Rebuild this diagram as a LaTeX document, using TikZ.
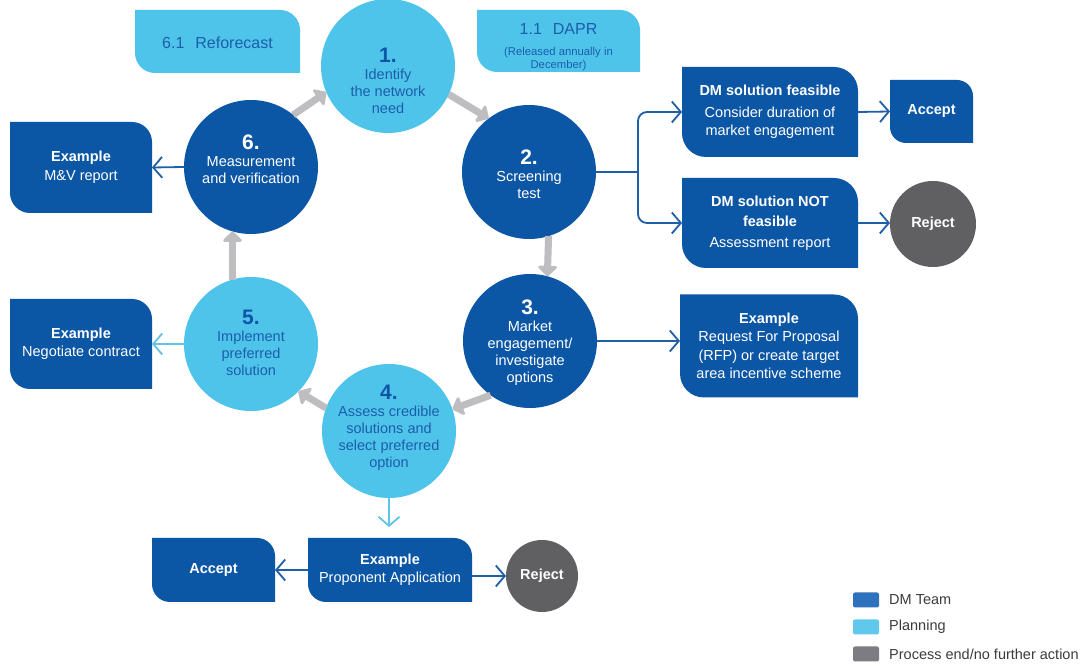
\documentclass[tikz,border=0pt]{standalone}
\usepackage{fontspec}
\setmainfont{Liberation Sans}
\usetikzlibrary{arrows.meta}
\definecolor{dmblue}{RGB}{12,86,166}
\definecolor{plan}{RGB}{78,196,234}
\definecolor{endgray}{RGB}{96,96,98}
\definecolor{arrgray}{RGB}{190,190,192}
\definecolor{lineblue}{RGB}{30,95,168}
\definecolor{linelight}{RGB}{95,196,230}
\definecolor{numblue}{RGB}{16,84,168}
\definecolor{plantext}{RGB}{28,94,172}
\definecolor{legdark}{RGB}{46,114,190}
\definecolor{leglight}{RGB}{95,200,236}
\definecolor{leggray}{RGB}{124,124,130}
\definecolor{legtext}{RGB}{60,60,60}
\tikzset{
  circ/.style={circle, fill=#1, minimum size=134pt, inner sep=0pt, outer sep=0pt},
  ctext/.style={align=center, inner sep=0pt, anchor=north, font=\fontsize{14.5}{17}\selectfont},
  leaf/.style 2 args={rectangle, inner sep=0pt, outer sep=0pt, align=center,
    path picture={\fill[#1] (path picture bounding box.north west)
      -- ([xshift=-#2]path picture bounding box.north east) arc[start angle=90,end angle=0,radius=#2]
      -- (path picture bounding box.south east)
      -- ([xshift=#2]path picture bounding box.south west) arc[start angle=270,end angle=180,radius=#2]
      -- cycle;}},
  dbox/.style={leaf={dmblue}{#1}, text=white, font=\fontsize{14.5}{18.5}\selectfont},
  dbox/.default=20pt,
  lbox/.style={leaf={plan}{20pt}, text=plantext, font=\fontsize{16}{18}\selectfont},
  ltext/.style={align=center, inner sep=0pt, text=plantext, font=\fontsize{16}{18}\selectfont},
  endc/.style={circle, fill=endgray, inner sep=0pt, outer sep=0pt, text=white, font=\fontsize{14.5}{17}\selectfont\bfseries},
  conn/.style={draw=lineblue, line width=1.8pt, -{Straight Barb[length=9pt,width=21pt]}},
  connl/.style={conn, draw=linelight},
  garrow/.style={draw=arrgray, line width=7pt, -{Triangle[length=11pt,width=22pt,round]}},
  legsq/.style={rectangle, rounded corners=2pt, minimum width=26pt, minimum height=15pt, inner sep=0pt},
  legtx/.style={anchor=west, inner sep=0pt, text=legtext, font=\fontsize{14.5}{17}\selectfont}
}
\begin{document}
\begin{tikzpicture}[x=1pt,y=1pt]
\fill[white] (0,0) rectangle (1089,666);
\useasboundingbox (0,0) rectangle (1089,666);

% circles
\node[circ=plan]   (c1) at (388,600) {};
\node[circ=dmblue] (c2) at (529,494) {};
\node[circ=dmblue] (c3) at (530,325) {};
\node[circ=plan]   (c4) at (389,235) {};
\node[circ=plan]   (c5) at (251,322) {};
\node[circ=dmblue] (c6) at (251,499) {};

\node[ctext, text=plantext] (c1t) at (388,618) {{\fontsize{21}{21}\selectfont\bfseries\color{numblue}1.}\\Identify\\the network\\need};
\node[ctext, text=white] (c2t) at (529,516.5) {{\fontsize{21}{21}\selectfont\bfseries 2.}\\Screening\\test};
\node[ctext, text=white] (c3t) at (530,366.5) {{\fontsize{21}{21}\selectfont\bfseries 3.}\\Market\\engagement/\\investigate\\options};
\node[ctext, text=plantext] (c4t) at (389,281.5) {{\fontsize{21}{21}\selectfont\bfseries\color{numblue}4.}\\Assess credible\\solutions and\\select preferred\\option};
\node[ctext, text=plantext] (c5t) at (251,356.5) {{\fontsize{21}{21}\selectfont\bfseries\color{numblue}5.}\\Implement\\preferred\\solution};
\node[ctext, text=white] (c6t) at (251,531.5) {{\fontsize{21}{21}\selectfont\bfseries 6.}\\Measurement\\and verification};

% planning boxes
\node[lbox, minimum width=165pt, minimum height=63pt] (refo) at (217.5,624.5) {};
\node[ltext] (refot) at (217.5,623) {6.1\hspace{11pt}Reforecast};
\node[lbox, minimum width=163pt, minimum height=62pt] (dapr) at (558.5,625) {};
\node[ltext] (daprt) at (558.5,619) {1.1\hspace{11pt}DAPR\\[3.5pt]{\fontsize{11.3}{12}\selectfont (Released annually in}\\[-5pt]{\fontsize{11.3}{12}\selectfont December)}};

% DM team boxes
\node[dbox, minimum width=142pt, minimum height=91pt] (mv) at (81,498.5) {\textbf{Example}\\M\&V report};
\node[dbox, minimum width=142pt, minimum height=90pt] (neg) at (81,322) {\textbf{Example}\\Negotiate contract};
\node[dbox=24pt, minimum width=176pt, minimum height=90pt] (feas) at (770,554) {\textbf{DM solution feasible}\\[3pt]Consider duration of\\market engagement};
\node[dbox=16pt, minimum width=83pt, minimum height=63pt] (acc1) at (931.5,554.5) {\textbf{Accept}};
\node[dbox=24pt, minimum width=176pt, minimum height=90pt] (notf) at (770,443) {\textbf{DM solution NOT}\\[2pt]\textbf{feasible}\\[2pt]Assessment report};
\node[endc, minimum size=86pt] (rej1) at (933,442) {Reject};
\node[dbox=24pt, minimum width=178pt, minimum height=103pt] (rfp) at (769,320) {\textbf{Example}\\Request For Proposal\\(RFP) or create target\\area incentive scheme};
\node[dbox=18pt, minimum width=123pt, minimum height=64pt] (acc2) at (213.5,96) {\textbf{Accept}};
\node[dbox=18pt, minimum width=164pt, minimum height=64pt] (prop) at (390,96) {\textbf{Example}\\Proponent Application};
\node[endc, minimum size=72pt] (rej2) at (542,90) {Reject};

% cycle arrows
\draw[garrow] (c6.51) -- (c1.203);
\draw[garrow] (c1.-25) -- (c2.127);
\draw[garrow] (c2.-73) -- (c3.75);
\draw[garrow] (c3.-126) -- (c4.19);
\draw[garrow] (c4.160) -- (c5.-45);
\draw[garrow] (c5.106) -- (c6.-106);

% connectors
\coordinate (split) at (638,494);
\draw[conn, -] (c2.east) -- (split);
\draw[conn, rounded corners=9pt] (split) |- (feas.west);
\draw[conn, rounded corners=9pt] (split) |- (notf.west);
\draw[conn] (feas.east) -- (acc1.west);
\draw[conn] (notf.east) -- (notf.east -| rej1.west);
\draw[conn] (c6.west) -- (mv.east);
\draw[connl] (c5.west) -- (neg.east);
\draw[conn] (c3.east) -- (c3.east -| rfp.west);
\draw[connl, shorten >=11pt] (c4.south) -- (c4.south |- prop.north);
\draw[conn] (prop.west) -- (acc2.east);
\draw[conn] (prop.east |- rej2.west) -- (rej2.west);

% legend
\node[legsq, fill=legdark] (l1) at (866,66) {};
\node[legsq, fill=leglight] (l2) at (866,39) {};
\node[legsq, fill=leggray] (l3) at (866,12) {};
\node[legtx] (l1t) at (889,66) {DM Team};
\node[legtx] (l2t) at (889,39) {Planning};
\node[legtx] (l3t) at (889,12) {Process end/no further action};
\end{tikzpicture}
\end{document}
